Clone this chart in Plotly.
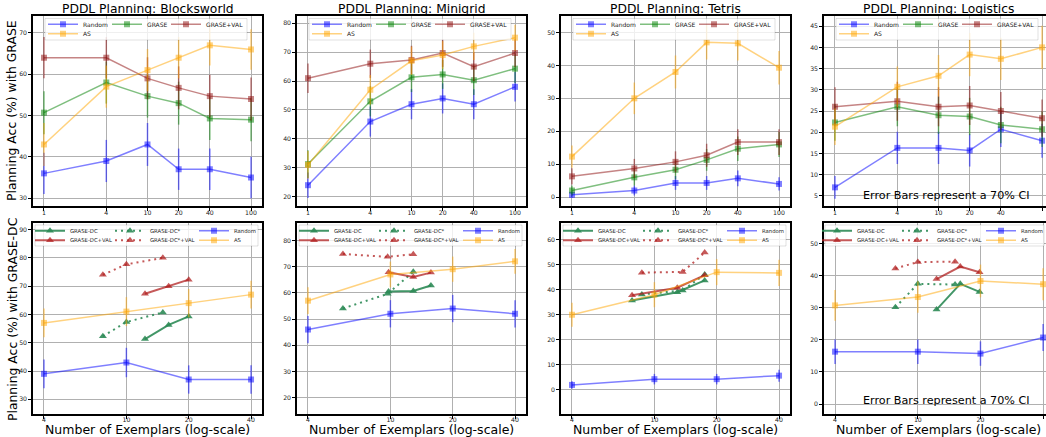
import plotly.graph_objects as go

W, H = 1046, 437

# ---------------- data ----------------
x_top = [1, 4, 10, 20, 40, 100]
x_top_labels = ["1", "4", "10", "20", "40", "100"]
x_bot = [4, 10, 20, 40]
x_bot_labels = ["4", "10", "20", "40"]

titles = ["PDDL Planning: Blocksworld", "PDDL Planning: Minigrid",
          "PDDL Planning: Tetris", "PDDL Planning: Logistics"]

# --- top row: GRASE ---
bw_random = [36.0, 39.0, 43.0, 37.0, 37.0, 35.0]
bw_random_err = [5.0, 5.1, 5.2, 5.0, 5.0, 5.0]
bw_grase = [50.7, 58.0, 54.7, 53.0, 49.3, 49.0]
bw_grase_err = [5.2, 5.1, 5.2, 5.2, 5.2, 5.2]
bw_grase_val = [64.0, 64.0, 59.0, 56.7, 54.7, 54.0]
bw_grase_val_err = [5.0, 5.0, 5.1, 5.2, 5.2, 5.2]
bw_as = [43.0, 57.0, 61.0, 64.0, 67.0, 66.0]
bw_as_err = [5.2, 5.1, 5.1, 5.0, 4.9, 4.9]

mg_random = [24.0, 46.0, 52.0, 54.0, 52.0, 58.0]
mg_random_err = [4.4, 5.2, 5.2, 5.2, 5.2, 5.1]
mg_grase = [31.3, 53.0, 61.3, 62.3, 60.3, 64.3]
mg_grase_err = [4.8, 5.2, 5.1, 5.0, 5.1, 5.0]
mg_grase_val = [61.0, 66.0, 67.3, 69.7, 65.0, 69.7]
mg_grase_val_err = [5.1, 4.9, 4.9, 4.8, 5.0, 4.8]
mg_as = [31.0, 57.0, 67.0, 69.0, 72.0, 75.0]
mg_as_err = [4.8, 5.1, 4.9, 4.8, 4.7, 4.5]

te_random = [0.7, 2.0, 4.3, 4.3, 5.7, 4.0]
te_random_err = [0.9, 1.5, 2.1, 2.1, 2.4, 2.0]
te_grase = [2.0, 6.0, 8.3, 11.3, 14.7, 16.0]
te_grase_err = [1.5, 2.5, 2.9, 3.3, 3.7, 3.8]
te_grase_val = [6.3, 8.7, 10.7, 12.7, 16.7, 16.7]
te_grase_val_err = [2.5, 2.9, 3.2, 3.5, 3.9, 3.9]
te_as = [12.3, 30.0, 38.0, 47.0, 46.7, 39.3]
te_as_err = [3.4, 4.8, 5.0, 5.2, 5.2, 5.1]

lo_random = [7.0, 16.3, 16.3, 15.7, 20.7, 18.0]
lo_random_err = [2.7, 3.8, 3.8, 3.8, 4.2, 4.0]
lo_grase = [22.3, 26.0, 24.0, 23.7, 21.7, 20.7]
lo_grase_err = [4.3, 4.6, 4.4, 4.4, 4.3, 4.2]
lo_grase_val = [26.0, 27.3, 26.0, 26.3, 25.0, 23.3]
lo_grase_val_err = [4.6, 4.6, 4.6, 4.6, 4.5, 4.4]
lo_as = [21.3, 30.7, 33.3, 38.3, 37.3, 40.0]
lo_as_err = [4.3, 4.8, 4.9, 5.1, 5.0, 5.1]

# --- bottom row: GRASE-DC ---
bw_b_random = [39.0, 43.0, 37.0, 37.0]
bw_b_random_err = [5.1, 5.2, 5.0, 5.0]
bw_b_as = [57.0, 61.0, 64.0, 67.0]
bw_b_as_err = [5.1, 5.1, 5.0, 4.9]
bw_dc_x = [12.3, 16.0, 20.0]
bw_dc = [51.3, 56.3, 59.3]
bw_dc_val = [67.3, 70.0, 72.3]
bw_dcs_x = [7.7, 10.0, 15.0]
bw_dcs = [52.3, 57.3, 60.7]
bw_dcs_val = [74.0, 77.7, 80.0]

mg_b_random = [46.0, 52.0, 54.0, 52.0]
mg_b_random_err = [5.2, 5.2, 5.2, 5.2]
mg_b_as = [57.0, 67.0, 69.0, 72.0]
mg_b_as_err = [5.1, 4.9, 4.8, 4.7]
mg_dc_x = [9.8, 12.9, 15.7]
mg_dc = [60.5, 60.7, 62.8]
mg_dc_val = [67.8, 66.0, 67.7]
mg_dcs_x = [5.9, 9.7, 12.9]
mg_dcs = [54.0, 59.6, 68.0]
mg_dcs_val = [74.8, 73.7, 74.7]

te_b_random = [2.0, 4.3, 4.3, 5.7]
te_b_random_err = [1.5, 2.1, 2.1, 2.4]
te_b_as = [30.0, 38.0, 47.0, 46.7]
te_b_as_err = [4.8, 5.0, 5.2, 5.2]
te_dc_x = [7.8, 12.9, 17.5]
te_dc = [35.7, 39.0, 43.7]
te_dc_val = [37.8, 40.8, 45.8]
te_dcs_x = [8.7, 13.7, 17.5]
te_dcs = [38.1, 39.7, 46.1]
te_dcs_val = [46.8, 47.1, 54.8]

lo_b_random = [16.3, 16.3, 15.7, 20.7]
lo_b_random_err = [3.8, 3.8, 3.8, 4.2]
lo_b_as = [30.7, 33.3, 38.3, 37.3]
lo_b_as_err = [4.8, 4.9, 5.1, 5.0]
lo_dc_x = [12.3, 16.0, 19.8]
lo_dc = [29.4, 37.4, 34.9]
lo_dc_val = [38.9, 42.8, 41.0]
lo_dcs_x = [7.8, 10.0, 15.1]
lo_dcs = [30.1, 37.4, 37.2]
lo_dcs_val = [42.2, 44.2, 44.3]

top_data = [
    (bw_random, bw_random_err, bw_grase, bw_grase_err, bw_grase_val, bw_grase_val_err, bw_as, bw_as_err),
    (mg_random, mg_random_err, mg_grase, mg_grase_err, mg_grase_val, mg_grase_val_err, mg_as, mg_as_err),
    (te_random, te_random_err, te_grase, te_grase_err, te_grase_val, te_grase_val_err, te_as, te_as_err),
    (lo_random, lo_random_err, lo_grase, lo_grase_err, lo_grase_val, lo_grase_val_err, lo_as, lo_as_err),
]
bot_data = [
    (bw_dc_x, bw_dc, bw_dc_val, bw_dcs_x, bw_dcs, bw_dcs_val, bw_b_random, bw_b_random_err, bw_b_as, bw_b_as_err),
    (mg_dc_x, mg_dc, mg_dc_val, mg_dcs_x, mg_dcs, mg_dcs_val, mg_b_random, mg_b_random_err, mg_b_as, mg_b_as_err),
    (te_dc_x, te_dc, te_dc_val, te_dcs_x, te_dcs, te_dcs_val, te_b_random, te_b_random_err, te_b_as, te_b_as_err),
    (lo_dc_x, lo_dc, lo_dc_val, lo_dcs_x, lo_dcs, lo_dcs_val, lo_b_random, lo_b_random_err, lo_b_as, lo_b_as_err),
]

# ---------------- styling / layout ----------------
FONT = "DejaVu Sans"
C_RANDOM = (0, 0, 255)
C_GRASE = (0, 128, 0)
C_VAL = (140, 10, 10)
C_AS = (255, 165, 0)
C_DC = "rgba(46,139,87,0.9)"
C_DCV = "rgba(178,34,34,0.75)"
DOT = "2px,4px"


def rgba(c, a):
    return f"rgba({c[0]},{c[1]},{c[2]},{a})"


def px_x(p):
    return p / W


def px_y(p):
    return 1 - p / H


x_dom_px = [(33, 262), (297, 526), (561, 790), (824, 1046)]
top_y_px = (16, 206)
bot_y_px = (222.5, 414)
top_xrange = [[-0.106, 2.106]] * 3 + [[-0.106, 2.038]]
bot_xrange = [[0.549, 1.655]] * 3 + [[0.549, 1.616]]
top_yrange = [[28.1, 74.1], [16.8, 82.5], [-2.7, 55.0], [2.6, 47.4]]
bot_yrange = [[24.8, 92.5], [13.8, 86.8], [-9.6, 66.8], [-3.1, 56.5]]
top_dtick = [10, 10, 10, 5]
bot_dtick = [10, 10, 10, 10]

fig = go.Figure()
layout = dict(
    width=W, height=H,
    margin=dict(l=0, r=0, t=0, b=0, autoexpand=False),
    paper_bgcolor="white", plot_bgcolor="white",
    font=dict(family=FONT, color="black"),
    showlegend=True,
    annotations=[], shapes=[],
)

axis_common = dict(
    showgrid=True, gridcolor="#b0b0b0", gridwidth=1,
    showline=True, linecolor="black", linewidth=1.5,
    ticks="outside", ticklen=3, tickwidth=1, tickcolor="black",
    tickfont=dict(family=FONT, size=6.2, color="#222"),
    zeroline=False, automargin=False,
)

legend_count = [0]


def new_legend(x_px, y_px, size):
    legend_count[0] += 1
    k = legend_count[0]
    lid = "legend" if k == 1 else f"legend{k}"
    layout[lid] = dict(
        orientation="h", x=px_x(x_px), y=px_y(y_px),
        xanchor="left", yanchor="middle",
        bgcolor="rgba(0,0,0,0)", borderwidth=0,
        font=dict(family=FONT, size=size, color="#222"),
        itemwidth=30, tracegroupgap=0,
    )
    return lid


def err_trace(x, y, err, name, c, xa, ya, lid, lw):
    return go.Scatter(
        x=x, y=y, name=name, mode="lines+markers",
        line=dict(color=rgba(c, 0.5), width=1.5),
        marker=dict(symbol="square", size=6, color=rgba(c, 0.5), line=dict(width=0)),
        error_y=dict(type="data", array=err, visible=True, color=rgba(c, 0.5),
                     thickness=1.5, width=0),
        xaxis=xa, yaxis=ya, legend=lid, legendwidth=lw,
    )


BOT_LEGEND_W = 226

for i in range(4):
    # ---------- top panel ----------
    k = i + 1
    xa, ya = f"x{k}", f"y{k}"
    pl, pr = x_dom_px[i]
    layout[f"xaxis{k}"] = dict(
        axis_common, type="log", domain=[px_x(pl), px_x(pr)], range=top_xrange[i],
        tickvals=x_top, ticktext=x_top_labels, anchor=ya, mirror=True,
        ticklabelstandoff=-3,
    )
    layout[f"yaxis{k}"] = dict(
        axis_common, domain=[px_y(top_y_px[1]), px_y(top_y_px[0])], range=top_yrange[i],
        dtick=top_dtick[i], tick0=0, anchor=xa, mirror=(i != 3),
    )
    r, re_, g, ge, v, ve, a, ae = top_data[i]
    lx = pl + 10
    l1 = new_legend(lx, 24.3, 6)
    l2 = new_legend(lx, 33.7, 6)
    layout["shapes"].append(dict(
        type="rect", xref="paper", yref="paper", layer="above",
        x0=px_x(lx + 2), x1=px_x(min(lx + 204, pr - 2)), y0=px_y(40), y1=px_y(18.5),
        fillcolor="rgba(255,255,255,0.8)", line=dict(color="rgba(0,0,0,0.12)", width=1),
    ))
    fig.add_trace(err_trace(x_top, r, re_, "Random", C_RANDOM, xa, ya, l1, 19))
    fig.add_trace(err_trace(x_top, g, ge, "GRASE", C_GRASE, xa, ya, l1, 14))
    fig.add_trace(err_trace(x_top, v, ve, "GRASE+VAL", C_VAL, xa, ya, l1, 38))
    fig.add_trace(err_trace(x_top, a, ae, "AS", C_AS, xa, ya, l2, 19))
    layout["annotations"].append(dict(
        text=titles[i], xref="paper", yref="paper", x=px_x((pl + pl + 229) / 2), y=px_y(9),
        xanchor="center", yanchor="middle", showarrow=False,
        font=dict(family=FONT, size=12.3, color="black"),
    ))

    # ---------- bottom panel ----------
    k = i + 5
    xa, ya = f"x{k}", f"y{k}"
    layout[f"xaxis{k}"] = dict(
        axis_common, type="log", domain=[px_x(pl), px_x(pr)], range=bot_xrange[i],
        tickvals=x_bot, ticktext=x_bot_labels, anchor=ya, mirror=True,
        ticklabelstandoff=-4,
    )
    layout[f"yaxis{k}"] = dict(
        axis_common, domain=[px_y(bot_y_px[1]), px_y(bot_y_px[0])], range=bot_yrange[i],
        dtick=bot_dtick[i], tick0=0, anchor=xa, mirror=(i != 3),
    )
    dcx, dc, dcv, dcsx, dcs, dcsv, br, bre, ba, bae = bot_data[i]
    lx = min(pl - 3, W - 3 - BOT_LEGEND_W)
    l1 = new_legend(lx, 230.7, 5.3)
    l2 = new_legend(lx, 240.2, 5.3)
    layout["shapes"].append(dict(
        type="rect", xref="paper", yref="paper", layer="above",
        x0=px_x(max(lx + 5, pl + 1)), x1=px_x(min(lx + BOT_LEGEND_W + 2, pr - 2)),
        y0=px_y(246), y1=px_y(225),
        fillcolor="rgba(255,255,255,0.8)", line=dict(color="rgba(0,0,0,0.12)", width=1),
    ))
    fig.add_trace(go.Scatter(
        x=dcx, y=dc, name="GRASE-DC", mode="lines+markers",
        line=dict(color=C_DC, width=2), marker=dict(symbol="triangle-up", size=7, color=C_DC),
        xaxis=xa, yaxis=ya, legend=l1, legendwidth=35,
    ))
    fig.add_trace(go.Scatter(
        x=dcsx, y=dcs, name="GRASE-DC*", mode="lines+markers",
        line=dict(color=C_DC, width=2, dash=DOT), marker=dict(symbol="triangle-up", size=7, color=C_DC),
        xaxis=xa, yaxis=ya, legend=l1, legendwidth=39,
    ))
    fig.add_trace(err_trace(x_bot, br, bre, "Random", C_RANDOM, xa, ya, l1, 22))
    fig.add_trace(go.Scatter(
        x=dcx, y=dcv, name="GRASE-DC+VAL", mode="lines+markers",
        line=dict(color=C_DCV, width=2), marker=dict(symbol="triangle-up", size=7, color=C_DCV),
        xaxis=xa, yaxis=ya, legend=l2, legendwidth=35,
    ))
    fig.add_trace(go.Scatter(
        x=dcsx, y=dcsv, name="GRASE-DC*+VAL", mode="lines+markers",
        line=dict(color=C_DCV, width=2, dash=DOT), marker=dict(symbol="triangle-up", size=7, color=C_DCV),
        xaxis=xa, yaxis=ya, legend=l2, legendwidth=39,
    ))
    fig.add_trace(err_trace(x_bot, ba, bae, "AS", C_AS, xa, ya, l2, 22))
    layout["annotations"].append(dict(
        text="Number of Exemplars (log-scale)", xref="paper", yref="paper",
        x=px_x((pl + pl + 229) / 2), y=px_y(429.5), xanchor="center", yanchor="middle",
        showarrow=False, font=dict(family=FONT, size=12.5, color="black"),
    ))

# y-axis titles
layout["annotations"].append(dict(
    text="Planning Acc (%) with GRASE", xref="paper", yref="paper",
    x=px_x(12), y=px_y(111), xanchor="center", yanchor="middle", textangle=-90,
    showarrow=False, font=dict(family=FONT, size=12.4, color="black"),
))
layout["annotations"].append(dict(
    text="Planning Acc (%) with GRASE-DC", xref="paper", yref="paper",
    x=px_x(12), y=px_y(320), xanchor="center", yanchor="middle", textangle=-90,
    showarrow=False, font=dict(family=FONT, size=12.4, color="black"),
))
# CI notes
for yc in (195, 400):
    layout["annotations"].append(dict(
        text="Error Bars represent a 70% CI", xref="paper", yref="paper",
        x=px_x(946), y=px_y(yc), xanchor="center", yanchor="middle",
        showarrow=False, font=dict(family=FONT, size=11.2, color="black"),
    ))

fig.update_layout(**layout)
fig.write_html(
    "out.html",
    config={"displayModeBar": False},
    post_script="document.body.style.margin='0px';document.body.style.overflow='hidden';",
)
